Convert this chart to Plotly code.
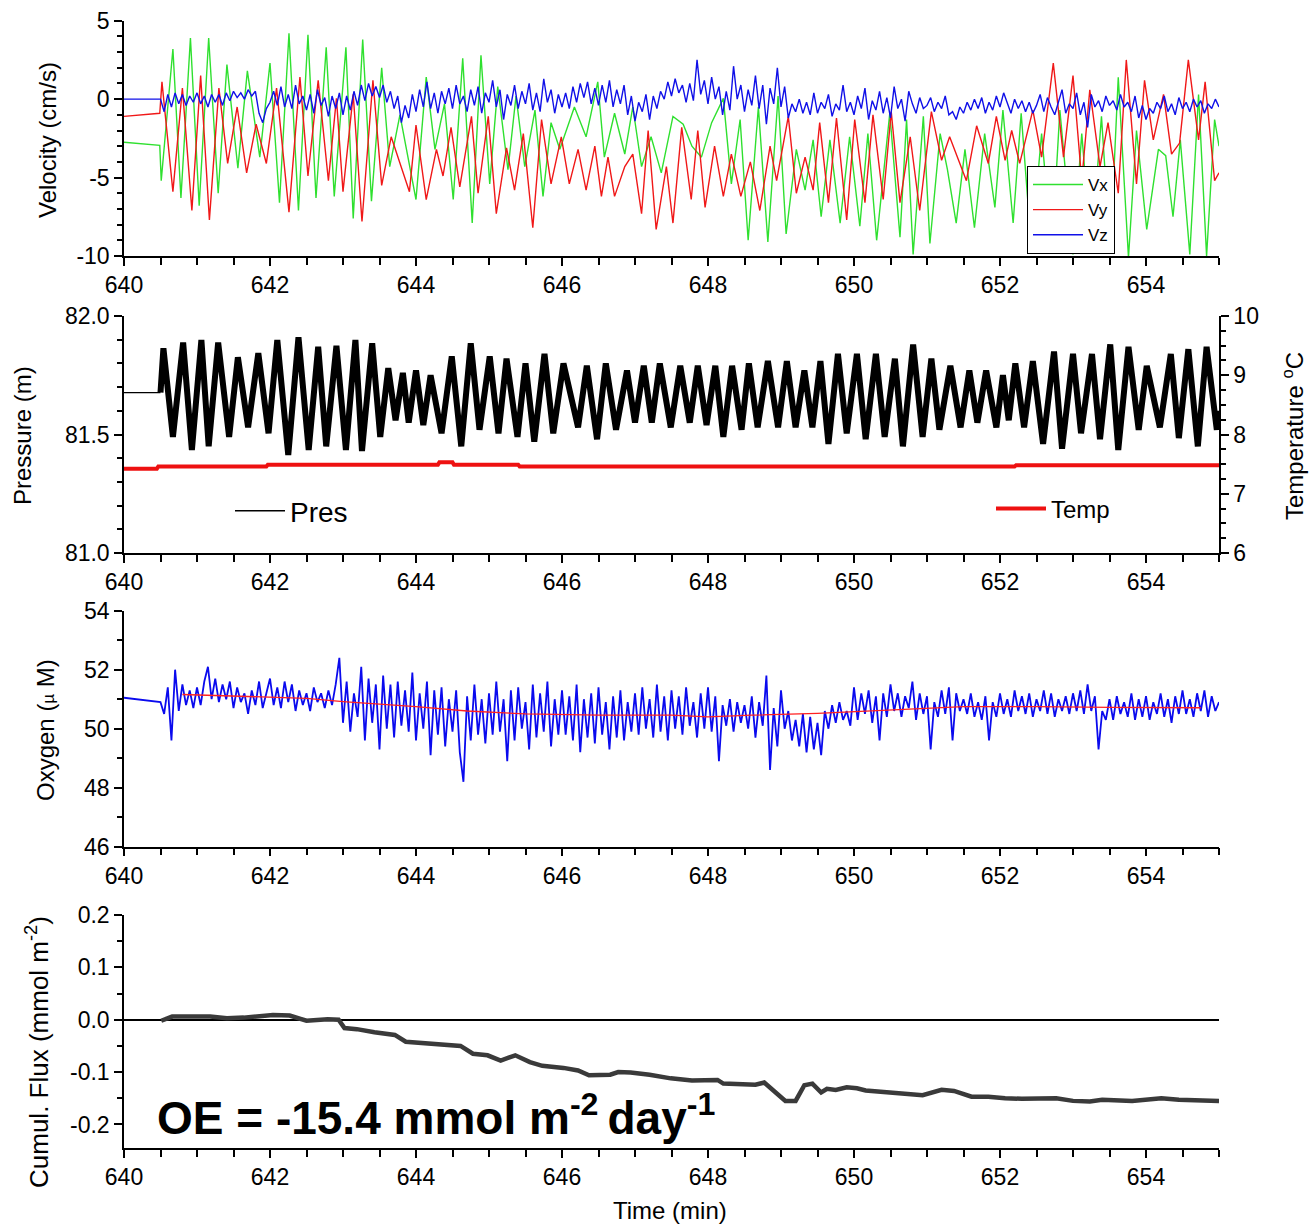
import numpy as np
import plotly.graph_objects as go

# ---------------- data ----------------
x_ticks = [640, 642, 644, 646, 648, 650, 652, 654]

vx_t = [640.0, 640.49, 640.51, 640.67, 640.78, 640.91, 641.03, 641.16, 641.29, 641.41, 641.56, 641.69, 641.86,
        642.0, 642.13, 642.26, 642.39, 642.52, 642.63, 642.77, 642.88, 643.04, 643.14, 643.27, 643.39, 643.53,
        643.64, 643.78, 644.0, 644.14, 644.26, 644.39, 644.51, 644.64, 644.77, 644.89, 645.01, 645.12, 645.26,
        645.37, 645.49, 645.63, 645.74, 645.85, 645.97, 646.17, 646.33, 646.49, 646.58, 646.72, 646.86, 646.97,
        647.09, 647.22, 647.36, 647.52, 647.66, 647.78, 647.91, 648.05, 648.21, 648.32, 648.44, 648.55, 648.69,
        648.82, 648.96, 649.07, 649.21, 649.33, 649.44, 649.55, 649.67, 649.81, 649.94, 650.08, 650.19, 650.31,
        650.49, 650.63, 650.72, 650.81, 650.95, 651.04, 651.18, 651.28, 651.4, 651.52, 651.65, 651.79, 651.93,
        652.04, 652.18, 652.29, 652.43, 652.57, 652.71, 652.82, 653.0, 653.12, 653.25, 653.39, 653.51, 653.62,
        653.76, 653.87, 654.01, 654.17, 654.27, 654.37, 654.47, 654.6, 654.72, 654.83, 654.94, 655.0]
vx_v = [-2.75, -2.95, -5.2, 3.2, -6.3, 3.9, -6.8, 3.9, -6.0, 2.2, -4.4, 1.8, -3.7,
        2.3, -6.6, 4.2, -7.1, 4.1, -6.3, 3.3, -6.2, 3.3, -7.6, 3.8, -6.5, 2.0,
        -4.3, -1.0, -6.4, 1.4, -3.2, -0.3, -6.4, 2.6, -7.9, 2.8, -5.4, 0.8, -4.5,
        0.2, -4.3, -0.7, -6.2, -1.5, -3.2, -0.5, -2.4, 1.1, -3.7, -0.9, -3.5, -0.5,
        -4.3, -2.4, -4.7, -1.1, -1.6, -3.0, -3.7, -1.5, 0.05, -5.4, -1.3, -9.0, -0.5,
        -9.1, 0.2, -8.6, -3.2, -5.8, -2.6, -7.5, -2.6, -7.9, -2.4, -8.1, -2.2, -9.0,
        -0.9, -8.8, -1.3, -9.9, -1.1, -9.2, -2.2, -4.5, -7.9, -3.2, -8.2, -2.2, -6.9,
        -0.7, -7.9, -0.9, -9.5, -2.2, -9.7, -0.7, -9.9, -2.2, -9.7, -1.1, -9.7, 1.4,
        -10.1, -2.0, -8.3, -3.2, -3.6, -7.5, -2.6, -9.9, 0.3, -10.0, -1.3, -3.0]

vy_t = [640.0, 640.49, 640.52, 640.67, 640.8, 640.93, 641.05, 641.17, 641.3, 641.42, 641.55, 641.68, 641.81,
        641.95, 642.09, 642.26, 642.41, 642.52, 642.66, 642.8, 642.91, 643.0, 643.14, 643.26, 643.41, 643.53,
        643.66, 643.91, 644.0, 644.14, 644.28, 644.37, 644.48, 644.6, 644.76, 644.85, 644.99, 645.1, 645.24,
        645.35, 645.47, 645.6, 645.72, 645.85, 645.99, 646.1, 646.22, 646.33, 646.45, 646.54, 646.63, 646.72,
        646.86, 646.97, 647.09, 647.18, 647.29, 647.43, 647.52, 647.64, 647.77, 647.86, 647.96, 648.09, 648.21,
        648.32, 648.45, 648.58, 648.71, 648.85, 648.94, 649.1, 649.21, 649.33, 649.44, 649.53, 649.65, 649.76,
        649.9, 650.01, 650.15, 650.26, 650.4, 650.51, 650.63, 650.77, 650.9, 651.06, 651.2, 651.31, 651.54,
        651.68, 651.84, 651.95, 652.07, 652.16, 652.27, 652.45, 652.57, 652.73, 652.87, 653.0, 653.12, 653.23,
        653.37, 653.48, 653.62, 653.73, 653.87, 653.98, 654.1, 654.24, 654.35, 654.46, 654.58, 654.72, 654.81,
        654.94, 655.0]
vy_v = [-1.1, -0.9, 1.1, -5.9, 0.7, -7.1, 1.5, -7.7, 0.7, -4.1, -0.5, -4.7, -1.6,
        -4.1, 0.7, -7.2, 1.4, -4.9, 1.2, -5.2, 0.05, -5.9, 0.3, -7.8, 1.2, -5.5,
        -2.4, -5.9, -1.65, -6.4, -3.2, -4.9, -1.8, -5.6, -1.1, -6.0, -1.1, -7.3, -3.1,
        -5.8, -2.2, -8.2, -1.3, -5.4, -2.4, -5.4, -3.2, -5.8, -3.0, -6.2, -3.7, -6.2,
        -4.3, -3.5, -7.3, -2.0, -8.3, -4.3, -7.9, -1.8, -6.4, -2.0, -6.9, -3.0, -6.2,
        -3.5, -6.2, -4.0, -7.1, -3.0, -5.2, -1.1, -6.0, -3.7, -5.8, -1.5, -6.6, -1.2,
        -7.7, -1.3, -6.6, -1.0, -6.4, -0.8, -6.6, -2.4, -7.1, -0.8, -3.9, -2.4, -5.2,
        -1.7, -4.1, -1.1, -3.9, -2.0, -4.1, -0.7, -3.7, 2.3, -3.7, 1.5, -5.2, 0.6,
        -4.3, -1.5, -6.0, 2.5, -5.4, 1.2, -2.6, 0.3, -3.5, -2.8, 2.5, -2.6, 1.1,
        -5.2, -4.7]

# Vz: flat value at 640 min, then samples every 0.05 min from 640.5
vz_start = 0.0
vz_v = [0.0, -0.8, 0.3, -0.5, 0.4, -0.3, 0.3, -0.4, 0.2, -0.2,
        0.4, -0.3, 0.2, -0.5, 0.3, -0.2, 0.3, -0.4, 0.4, -0.1,
        0.5, 0.1, 0.4, 0.0, 0.6, 0.2, 0.5, -0.9, -1.5, -0.6,
        -0.2, 0.5, -0.4, 0.8, -0.5, 0.3, -0.6, 0.9, -0.3, 0.2,
        -0.7, 0.3, -0.9, 0.6, -0.4, 0.1, -1.1, 0.2, -0.6, 0.4,
        -1.0, 0.2, -0.7, 0.5, -0.4, 0.9, -0.1, 1.0, 0.2, 0.8,
        0.1, 0.9, -0.2, 0.5, -0.6, 0.2, -1.5, -0.4, -1.2, 0.3,
        -0.8, 0.6, -0.5, 1.1, -0.6, 0.4, -0.9, 0.5, -0.3, 0.7,
        -0.6, 0.9, -0.3, 0.2, -0.8, 0.6, -0.4, 0.8, -0.9, 0.4,
        -0.2, 1.2, -0.5, 0.6, -1.3, 0.3, -0.4, 0.9, -0.6, 0.5,
        -0.3, 1.0, -0.7, 0.4, -0.8, 1.3, -0.2, 0.6, -0.9, 0.3,
        -0.5, 0.4, -0.6, 0.8, -0.2, 1.0, 0.1, 1.1, -0.3, 0.7,
        -0.4, 0.9, -0.2, 1.2, -0.5, 0.6, -0.3, 0.9, -1.0, 0.2,
        -1.4, -0.2, -0.8, 0.3, -1.3, 0.2, -0.6, 0.5, 0.0, 1.1,
        0.2, 1.3, 0.4, 0.9, -0.2, 1.0, -0.1, 2.5, 0.3, 1.2,
        -0.3, 1.4, 0.0, 0.8, -1.0, 0.5, -0.7, 2.1, 0.0, 0.9,
        -0.8, 0.6, -0.4, 1.5, -0.6, 0.9, -1.6, 0.7, -0.3, 2.0,
        -0.5, 0.8, -1.2, -0.3, -0.8, 0.0, -0.9, -0.2, -1.0, 0.4,
        -0.9, -0.2, -0.6, 0.3, -1.1, -0.3, -0.7, 0.9, -0.8, -0.2,
        -1.0, 0.2, -0.6, 0.7, -1.3, -0.1, -0.7, 0.5, -0.9, 0.1,
        -1.2, 0.8, -0.6, 0.0, -1.4, 0.5, -0.3, -0.9, 0.1, -0.6,
        -0.4, 0.1, -0.8, -0.2, -0.6, 0.2, -1.0, -0.8, -1.3, -0.5,
        -0.9, -0.2, -0.7, 0.0, -0.6, 0.1, -0.9, -0.2, -0.7, 0.2,
        -0.5, 0.4, -0.3, -0.9, 0.0, -0.6, -0.1, -0.8, -0.2, -0.9,
        -0.4, 0.3, -0.8, 0.1, -0.5, -1.0, -0.2, 0.6, -0.9, -0.3,
        -0.6, 0.4, -1.0, -0.2, -1.8, 0.3, -0.5, -0.1, -0.8, 0.2,
        -0.4, -0.1, -0.7, 0.3, -0.5, -0.2, -0.8, 0.2, -1.2, -0.4,
        -1.3, -0.6, -0.9, -0.2, -0.6, 0.2, -0.8, -0.3, -1.0, 0.1,
        -0.6, -0.2, -0.8, 0.0, -0.5, -0.1, -0.9, -0.3, -0.6, 0.0,
        -0.5]

# Pressure: flat idle segment before the record starts, then the wave record
pres_idle_t = [640.0, 640.5]
pres_idle_v = [81.677, 81.677]
pres_t = [640.5, 640.54, 640.67, 640.81, 640.93, 641.06, 641.16, 641.29, 641.44, 641.56, 641.70, 641.84,
          641.98, 642.10, 642.25, 642.39, 642.53, 642.66, 642.77, 642.91, 643.04, 643.17, 643.26, 643.40, 643.51,
          643.62, 643.72, 643.82, 643.90, 644.0, 644.1, 644.2, 644.35, 644.49, 644.62, 644.75, 644.87, 645.01,
          645.13, 645.24, 645.39, 645.50, 645.62, 645.76, 645.88, 646.02, 646.22, 646.34, 646.48, 646.60, 646.74,
          646.89, 647.0, 647.12, 647.23, 647.34, 647.49, 647.62, 647.75, 647.86, 647.98, 648.10, 648.21, 648.33,
          648.46, 648.56, 648.68, 648.82, 648.96, 649.08, 649.20, 649.32, 649.43, 649.54, 649.65, 649.78, 649.90,
          650.04, 650.16, 650.30, 650.42, 650.56, 650.67, 650.81, 650.94, 651.06, 651.17, 651.32, 651.46, 651.58,
          651.69, 651.81, 651.95, 652.04, 652.12, 652.21, 652.33, 652.45, 652.59, 652.74, 652.85, 653.0, 653.11,
          653.26, 653.37, 653.51, 653.62, 653.76, 653.9, 654.01, 654.19, 654.34, 654.45, 654.58, 654.71, 654.83,
          654.97, 655.0]
pres_v = [81.677, 81.864, 81.49, 81.888, 81.435, 81.899, 81.45, 81.888, 81.49, 81.826, 81.53, 81.843,
          81.505, 81.899, 81.414, 81.91, 81.435, 81.87, 81.45, 81.874, 81.435, 81.899, 81.43, 81.885, 81.49,
          81.78, 81.56, 81.76, 81.55, 81.77, 81.54, 81.75, 81.505, 81.83, 81.45, 81.885, 81.52, 81.83,
          81.505, 81.82, 81.49, 81.80, 81.47, 81.84, 81.505, 81.80, 81.53, 81.79, 81.48, 81.80, 81.52,
          81.77, 81.55, 81.79, 81.55, 81.80, 81.53, 81.79, 81.55, 81.79, 81.54, 81.79, 81.49, 81.79,
          81.52, 81.80, 81.53, 81.81, 81.53, 81.81, 81.53, 81.77, 81.53, 81.81, 81.46, 81.84, 81.505,
          81.84, 81.48, 81.84, 81.49, 81.82, 81.45, 81.88, 81.49, 81.82, 81.52, 81.79, 81.53, 81.77,
          81.55, 81.77, 81.53, 81.75, 81.56, 81.80, 81.53, 81.81, 81.46, 81.85, 81.44, 81.84, 81.505,
          81.84, 81.48, 81.88, 81.435, 81.87, 81.52, 81.79, 81.53, 81.84, 81.485, 81.86, 81.45, 81.87,
          81.52, 81.60]

temp_t = [640.0, 640.45, 640.47, 641.95, 641.97, 644.3, 644.32, 644.5, 644.52, 645.4, 645.42, 652.2, 652.22, 655.0]
temp_v = [7.42, 7.42, 7.46, 7.46, 7.49, 7.49, 7.53, 7.53, 7.49, 7.49, 7.46, 7.46, 7.48, 7.48]

# Oxygen: flat value at 640 min, then samples every 0.05 min from 640.5
o2_start = 51.05
o2_v = [50.9, 50.5, 51.4, 49.6, 52.0, 50.6, 51.5, 50.8, 51.3, 50.7,
        51.4, 50.8, 51.6, 52.1, 51.0, 51.7, 50.9, 51.5, 51.0, 51.6,
        50.7, 51.4, 50.9, 51.2, 50.5, 51.3, 50.8, 51.6, 50.7, 51.2,
        51.7, 50.8, 51.4, 50.7, 51.6, 50.9, 51.5, 50.6, 51.3, 50.8,
        51.2, 50.6, 51.4, 50.9, 51.2, 50.7, 51.3, 50.8, 51.5, 52.4,
        50.2, 51.6, 49.9, 51.2, 50.4, 52.1, 49.6, 51.7, 50.2, 51.5,
        49.3, 51.8, 50.0, 51.5, 49.7, 51.6, 50.1, 51.3, 49.9, 51.9,
        49.6, 51.2, 50.0, 51.6, 49.1, 51.3, 49.8, 51.4, 49.4, 51.0,
        49.9, 51.3, 49.2, 48.2, 51.1, 49.6, 51.5, 49.8, 51.0, 49.5,
        51.2, 49.8, 51.6, 49.9, 51.0, 48.9, 51.3, 49.6, 51.4, 50.0,
        50.9, 49.3, 51.5, 49.7, 51.2, 49.9, 51.6, 49.4, 51.0, 49.8,
        51.3, 49.8, 51.1, 49.6, 51.5, 49.2, 51.0, 49.7, 51.2, 49.5,
        51.4, 49.8, 50.9, 49.3, 51.1, 49.7, 51.3, 49.6, 50.9, 49.9,
        51.2, 49.8, 51.4, 50.0, 51.0, 49.7, 51.5, 49.9, 51.1, 49.6,
        51.3, 50.0, 51.1, 49.8, 51.4, 50.1, 50.9, 49.7, 51.2, 50.0,
        51.4, 49.9, 51.1, 48.9, 50.8, 50.1, 51.0, 49.9, 50.9, 50.2,
        50.8, 50.0, 51.1, 49.7, 50.9, 50.1, 51.8, 48.6, 50.7, 49.4,
        51.3, 50.0, 50.6, 49.6, 50.3, 49.4, 50.5, 49.2, 50.4, 49.3,
        50.2, 49.1, 50.6, 50.0, 50.8, 50.2, 50.9, 50.3, 50.6, 50.1,
        51.4, 50.3, 51.2, 50.5, 51.3, 50.2, 51.1, 49.6, 51.2, 50.4,
        51.5, 50.6, 51.2, 50.4, 51.1, 50.7, 51.6, 50.3, 51.2, 50.5,
        51.1, 49.3, 50.9, 50.4, 51.3, 50.5, 51.4, 49.6, 51.2, 50.6,
        51.0, 50.5, 51.2, 50.4, 50.9, 50.3, 51.1, 49.6, 50.9, 50.4,
        51.2, 50.5, 51.0, 50.4, 51.3, 50.6, 51.1, 50.5, 51.2, 50.4,
        51.0, 50.6, 51.3, 50.5, 51.2, 50.4, 51.0, 50.6, 51.1, 50.5,
        51.2, 50.6, 51.3, 50.5, 51.5, 50.6, 51.1, 49.3, 50.6, 50.3,
        51.0, 50.3, 51.1, 50.5, 50.9, 50.4, 51.2, 50.3, 51.0, 50.4,
        51.1, 50.3, 50.9, 50.5, 51.2, 50.4, 51.0, 50.2, 51.1, 50.5,
        51.3, 50.5, 51.0, 50.4, 51.2, 50.6, 51.3, 50.4, 51.1, 50.6,
        50.9]

o2_mean_t = [640.8, 641.5, 642.5, 643.0, 644.0, 644.7, 645.5, 646.5, 647.5, 648.0, 648.6, 649.5, 650.0,
             650.7, 651.5, 652.5, 653.5, 654.75]
o2_mean_v = [51.16, 51.1, 51.03, 50.92, 50.75, 50.6, 50.5, 50.46, 50.46, 50.4, 50.46, 50.52, 50.58,
             50.65, 50.75, 50.75, 50.72, 50.71]

flux_t = [640.51, 640.66, 641.18, 641.41, 641.64, 642.04, 642.27, 642.50, 642.79, 642.94, 643.02, 643.19,
          643.43, 643.71, 643.86, 644.06, 644.35, 644.61, 644.78, 644.98, 645.16, 645.36, 645.56, 645.73,
          646.02, 646.22, 646.37, 646.66, 646.77, 646.94, 647.2, 647.49, 647.78, 648.13, 648.21, 648.65,
          648.77, 649.06, 649.2, 649.32, 649.43, 649.55, 649.63, 649.75, 649.9, 650.04, 650.16, 650.45,
          650.68, 650.94, 651.2, 651.37, 651.61, 651.84, 652.07, 652.3, 652.77, 653.0, 653.23, 653.4,
          653.81, 654.21, 654.45, 655.0]
flux_v = [-0.002, 0.006, 0.006, 0.003, 0.004, 0.009, 0.008, -0.002, 0.001, 0.0, -0.016, -0.018,
          -0.024, -0.029, -0.042, -0.044, -0.048, -0.050, -0.065, -0.068, -0.078, -0.068, -0.081, -0.088,
          -0.092, -0.097, -0.106, -0.105, -0.100, -0.101, -0.105, -0.112, -0.116, -0.115, -0.122, -0.124,
          -0.120, -0.155, -0.155, -0.125, -0.122, -0.139, -0.132, -0.134, -0.129, -0.131, -0.135, -0.138,
          -0.141, -0.144, -0.134, -0.136, -0.147, -0.147, -0.150, -0.151, -0.150, -0.155, -0.156, -0.153,
          -0.155, -0.150, -0.153, -0.155]

# ---------------- figure ----------------
W, H = 1312, 1225
L, R = 124, 1219
FONT = "Liberation Sans, Arial, sans-serif"


def dom(top_px, bot_px):
    return [1 - bot_px / H, 1 - top_px / H]


def px_x(px):
    return (px - L) / (R - L)


def px_y(px):
    return 1 - px / H


vz_t = [640.0] + list(640.5 + 0.05 * np.arange(len(vz_v)))
vz_all = [vz_start] + vz_v
o2_t = [640.0] + list(640.5 + 0.05 * np.arange(len(o2_v)))
o2_all = [o2_start] + o2_v

fig = go.Figure()

fig.add_trace(go.Scatter(x=vx_t, y=vx_v, mode="lines", name="Vx", line=dict(color="#2fe02f", width=1.4),
                         xaxis="x", yaxis="y", legend="legend"))
fig.add_trace(go.Scatter(x=vy_t, y=vy_v, mode="lines", name="Vy", line=dict(color="#f01818", width=1.4),
                         xaxis="x", yaxis="y", legend="legend"))
fig.add_trace(go.Scatter(x=vz_t, y=vz_all, mode="lines", name="Vz", line=dict(color="#1010e8", width=1.4),
                         xaxis="x", yaxis="y", legend="legend"))

fig.add_trace(go.Scatter(x=pres_idle_t, y=pres_idle_v, mode="lines", showlegend=False,
                         line=dict(color="black", width=1.2), xaxis="x2", yaxis="y2"))
fig.add_trace(go.Scatter(x=pres_t, y=pres_v, mode="lines", name="Pres", showlegend=False,
                         line=dict(color="black", width=6), xaxis="x2", yaxis="y2"))
fig.add_trace(go.Scatter(x=[None], y=[None], mode="lines", name="Pres", line=dict(color="black", width=1.5),
                         xaxis="x2", yaxis="y2", legend="legend2"))
fig.add_trace(go.Scatter(x=temp_t, y=temp_v, mode="lines", name="Temp", line=dict(color="#ee1111", width=4),
                         xaxis="x2", yaxis="y5", legend="legend3"))

fig.add_trace(go.Scatter(x=o2_t, y=o2_all, mode="lines", showlegend=False, line=dict(color="#0a0aee", width=1.8),
                         xaxis="x3", yaxis="y3"))
fig.add_trace(go.Scatter(x=o2_mean_t, y=o2_mean_v, mode="lines", showlegend=False,
                         line=dict(color="#ff2020", width=1.3), xaxis="x3", yaxis="y3"))

fig.add_trace(go.Scatter(x=flux_t, y=flux_v, mode="lines", showlegend=False,
                         line=dict(color="#3a3a3a", width=4.5), xaxis="x4", yaxis="y4"))

tickfont = dict(family=FONT, size=23, color="black")
axis_common = dict(showline=True, linecolor="black", linewidth=1.5, ticks="outside", ticklen=8, tickwidth=1.5,
                   tickcolor="black", showgrid=False, zeroline=False, tickfont=tickfont, automargin=False)


def xaxis(anchor):
    return dict(axis_common, anchor=anchor, domain=[0, 1], range=[640, 655], tickvals=x_ticks,
                ticktext=[str(v) for v in x_ticks],
                minor=dict(dtick=0.5, tick0=640, ticks="outside", ticklen=7, tickwidth=1.5, tickcolor="black"))


def ylabels(vals, fmt):
    return [fmt.format(v).replace("\u2212", "-") for v in vals]


v_ticks = [-10, -5, 0, 5]
p_ticks = [81.0, 81.5, 82.0]
t_ticks = [6, 7, 8, 9, 10]
o_ticks = [46, 48, 50, 52, 54]
f_ticks = [-0.2, -0.1, 0.0, 0.1, 0.2]

fig.update_layout(
    template="none",
    width=W, height=H,
    margin=dict(l=L, r=W - R, t=0, b=0, autoexpand=False),
    paper_bgcolor="white", plot_bgcolor="rgba(0,0,0,0)",
    font=dict(family=FONT, color="black"),
    xaxis=xaxis("y"), xaxis2=xaxis("y2"), xaxis3=xaxis("y3"), xaxis4=xaxis("y4"),
    yaxis=dict(axis_common, domain=dom(20.7, 256), range=[-10, 5], tickvals=v_ticks,
               ticktext=ylabels(v_ticks, "{:d}"),
               minor=dict(dtick=1, tick0=0, ticks="outside", ticklen=5, tickwidth=1.5, tickcolor="black")),
    yaxis2=dict(axis_common, domain=dom(316, 553), range=[81.0, 82.0], tickvals=p_ticks,
                ticktext=ylabels(p_ticks, "{:.1f}"),
                minor=dict(dtick=0.1, tick0=81, ticks="outside", ticklen=5, tickwidth=1.5, tickcolor="black")),
    yaxis5=dict(axis_common, overlaying="y2", side="right", anchor="x2", range=[6, 10], tickvals=t_ticks,
                ticktext=[str(v) for v in t_ticks],
                minor=dict(dtick=0.25, tick0=6, ticks="outside", ticklen=5, tickwidth=1.5, tickcolor="black")),
    yaxis3=dict(axis_common, domain=dom(610.7, 846.7), range=[46, 54], tickvals=o_ticks,
                ticktext=[str(v) for v in o_ticks],
                minor=dict(dtick=1, tick0=46, ticks="outside", ticklen=5, tickwidth=1.5, tickcolor="black")),
    yaxis4=dict(axis_common, domain=dom(915, 1148), range=[-0.245, 0.2], tickvals=f_ticks,
                ticktext=ylabels(f_ticks, "{:.1f}"),
                zeroline=True, zerolinecolor="black", zerolinewidth=1.5,
                minor=dict(dtick=0.05, tick0=0, ticks="outside", ticklen=5, tickwidth=1.5, tickcolor="black")),
    legend=dict(x=px_x(1027), y=px_y(166), xanchor="left", yanchor="top", bgcolor="white",
                bordercolor="black", borderwidth=1, font=dict(family=FONT, size=17, color="black"),
                itemwidth=50, tracegroupgap=0),
    legend2=dict(x=px_x(230), y=px_y(511), xanchor="left", yanchor="middle", bgcolor="rgba(0,0,0,0)",
                 font=dict(family=FONT, size=28, color="black"), itemwidth=50),
    legend3=dict(x=px_x(991), y=px_y(509), xanchor="left", yanchor="middle", bgcolor="rgba(0,0,0,0)",
                 font=dict(family=FONT, size=24, color="black"), itemwidth=50),
    showlegend=True,
)

title_font = dict(family=FONT, size=24, color="black")
annots = [
    dict(text="Velocity (cm/s)", x=px_x(47), y=px_y(140), font=title_font),
    dict(text="Pressure (m)", x=px_x(22), y=px_y(436), font=title_font),
    dict(text="Oxygen (<span style='font-size:17px'>\u00b5</span> M)", x=px_x(45), y=px_y(730), font=title_font),
    dict(text="Cumul. Flux (mmol m<sup>-2</sup>)", x=px_x(37), y=px_y(1052),
         font=dict(family=FONT, size=26, color="black")),
]
for a in annots:
    fig.add_annotation(xref="paper", yref="paper", textangle=-90, showarrow=False, xanchor="center",
                       yanchor="middle", **a)
fig.add_annotation(xref="paper", yref="paper", text="Temperature <sup>o</sup>C", x=px_x(1293), y=px_y(436),
                   textangle=-90, showarrow=False, xanchor="center", yanchor="middle", font=title_font)
fig.add_annotation(xref="paper", yref="paper", text="Time (min)", x=px_x(670), y=px_y(1210),
                   showarrow=False, xanchor="center", yanchor="middle", font=title_font)
fig.add_annotation(xref="paper", yref="paper",
                   text="<b>OE = -15.4 mmol m<sup>-2 </sup>day<sup>-1</sup></b>",
                   x=px_x(155), y=px_y(1115), showarrow=False, xanchor="left", yanchor="middle",
                   font=dict(family=FONT, size=46, color="black"))

fig.write_html("out.html")
